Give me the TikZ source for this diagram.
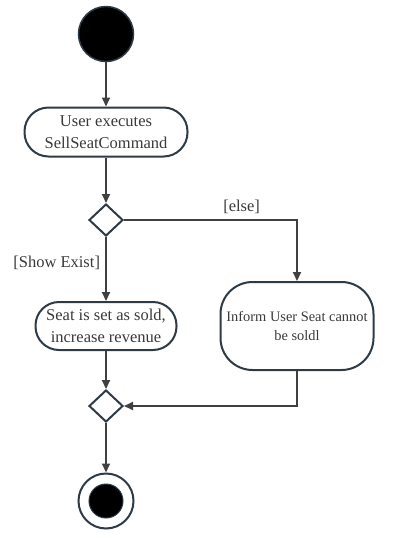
\documentclass[tikz,border=0pt]{standalone}
\usepackage{fontspec}
\setmainfont{Liberation Serif}
\usetikzlibrary{arrows.meta,shapes.geometric}
\definecolor{edgec}{HTML}{404040}
\definecolor{shapec}{HTML}{2E3A45}
\definecolor{textc}{HTML}{3A3A3A}
\tikzset{
  every node/.style={text=textc},
  flow/.style={draw=edgec, line width=2pt, -{Triangle[length=9pt,width=8pt]}},
  action/.style={draw=shapec, line width=2pt, fill=white, align=center, inner sep=0pt, font=\fontsize{16.5}{22}\selectfont},
  decision/.style={draw=shapec, line width=2pt, fill=white, diamond, minimum width=34pt, minimum height=32pt, inner sep=0pt},
  guard/.style={font=\fontsize{16.5}{20}\selectfont, inner sep=0pt},
}
\begin{document}
\begin{tikzpicture}[x={(1pt,0)}, y={(0,-1pt)}]
\useasboundingbox (0,0) rectangle (411,542);
% start
\node[circle, fill=black, draw=shapec, line width=1.5pt, minimum size=55pt, inner sep=0pt] (start) at (106,34) {};
% action 1
\node[action, minimum width=163pt, minimum height=49pt, rounded corners=24pt] (a1) at (106,132) {User executes\\SellSeatCommand};
% decision
\node[decision] (d1) at (106,220) {};
% action 2
\node[action, minimum width=141pt, minimum height=48pt, rounded corners=23.5pt] (a2) at (106,326) {Seat is set as sold,\\increase revenue};
% action 3
\node[action, minimum width=153pt, minimum height=88pt, rounded corners=32pt, font=\fontsize{14.4}{19}\selectfont] (a3) at (297,326) {Inform User Seat cannot\\be soldl};
% merge
\node[decision] (d2) at (106,406) {};
% end
\node[circle, draw=shapec, line width=2pt, fill=white, minimum size=55pt, inner sep=0pt] (endo) at (106,501) {};
\node[circle, fill=black, draw=shapec, line width=1pt, minimum size=34pt, inner sep=0pt] (endi) at (106,501) {};
% connectors
\draw[flow] (start) -- (a1);
\draw[flow] (a1) -- (d1);
\draw[flow] (d1) -- node[guard, left=5pt, pos=0.4] (gshow) {[Show Exist]} (a2);
\draw[flow] (d1.east) -| (a3.north) node[guard, pos=0.34, above=5pt] (gelse) {[else]};
\draw[flow] (a2) -- (d2);
\draw[flow] (a3.south) |- (d2.east);
\draw[flow] (d2) -- (endo);
\end{tikzpicture}
\end{document}
